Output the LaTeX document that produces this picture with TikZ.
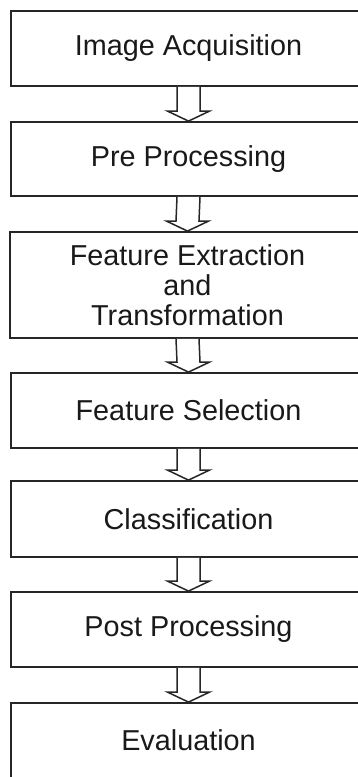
\documentclass[tikz,border=0pt]{standalone}
\usepackage{fontspec}
\setmainfont{Liberation Sans}
\usetikzlibrary{calc}
\tikzset{
  stepbox/.style={draw=black!85, line width=1.8pt, rectangle, inner sep=0pt,
    minimum width=355pt, align=center, font=\fontsize{28.8}{30}\selectfont, text=black!90},
  blockarrow/.style={draw=black!85, line width=1.5pt, fill=white, line join=miter}
}
\newcommand{\flowarrow}[2]{%
  \draw[blockarrow] ($(#1.south)+(-11.5,0)$) -- ($(#2.north)+(-11.5,-10)$)
    -- ($(#2.north)+(-21,-10)$) -- (#2.north) -- ($(#2.north)+(21,-10)$)
    -- ($(#2.north)+(11.5,-10)$) -- ($(#1.south)+(11.5,0)$);}
\begin{document}
\begin{tikzpicture}[x=1pt,y=-1pt]
\useasboundingbox (0,0) rectangle (358,777);
\clip (0,0) rectangle (358,777);
\node[stepbox, minimum height=75pt] (b1) at (188.5,48.5) {Image Acquisition};
\node[stepbox, minimum height=74pt] (b2) at (188.5,159) {Pre Processing};
\node[stepbox, minimum height=106pt] (b3) at (187.5,285) {Feature Extraction\\and\\Transformation};
\node[stepbox, minimum height=75pt] (b4) at (188.5,410.5) {Feature Selection};
\node[stepbox, minimum height=76pt] (b5) at (188.5,519) {Classification};
\node[stepbox, minimum height=75pt] (b6) at (188.5,629.5) {Post Processing};
\node[stepbox, minimum height=75pt] (b7) at (188.5,740.5) {Evaluation};
\flowarrow{b1}{b2}
\flowarrow{b2}{b3}
\flowarrow{b3}{b4}
\flowarrow{b4}{b5}
\flowarrow{b5}{b6}
\flowarrow{b6}{b7}
\end{tikzpicture}
\end{document}
